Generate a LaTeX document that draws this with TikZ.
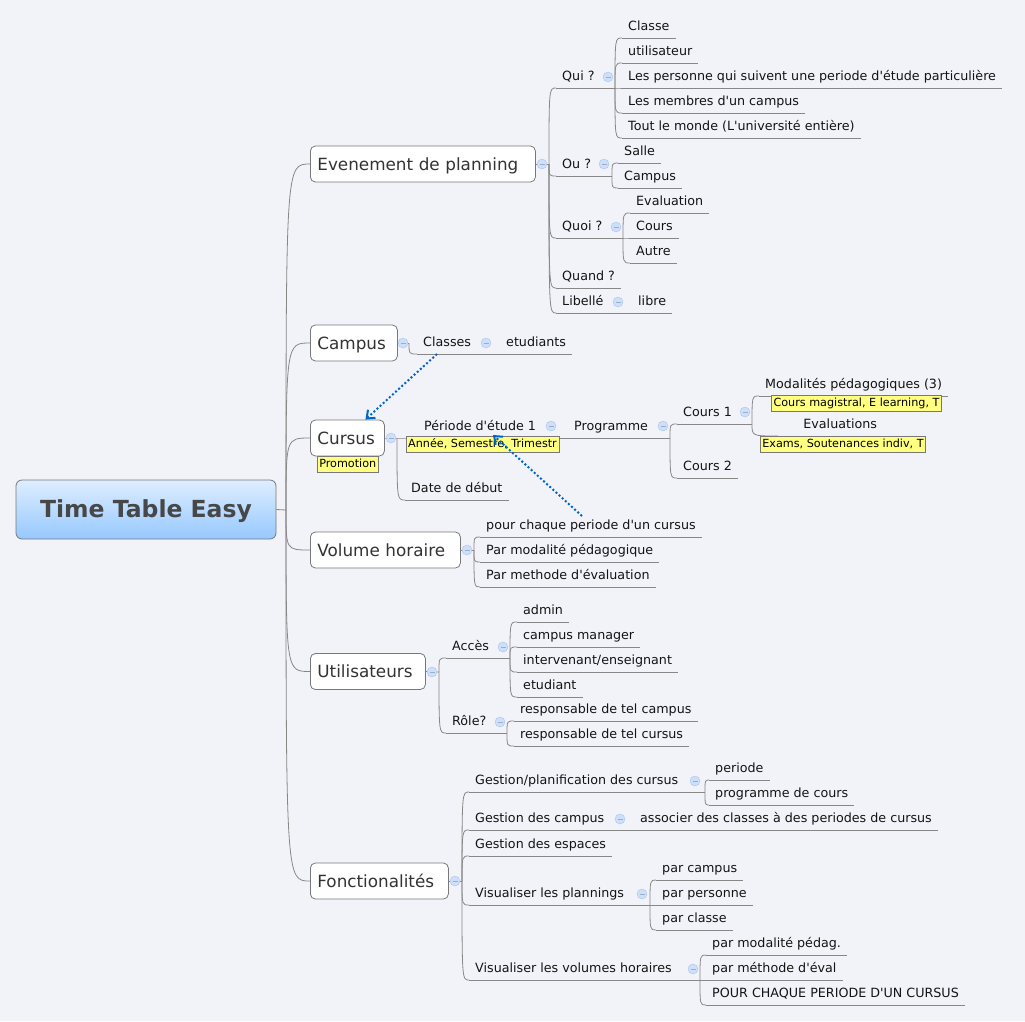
\documentclass[tikz,border=0pt]{standalone}
\usepackage{fontspec}
\setmainfont{DejaVu Sans}[Ligatures=TeXOff]
\usetikzlibrary{calc,positioning,arrows.meta}

\definecolor{paper}{RGB}{242,243,248}
\definecolor{wiregray}{RGB}{135,135,135}
\definecolor{boxgray}{RGB}{120,120,120}
\definecolor{foldfill}{RGB}{206,223,250}
\definecolor{folddraw}{RGB}{168,196,240}
\definecolor{notefill}{RGB}{255,255,128}
\definecolor{roottop}{RGB}{222,238,255}
\definecolor{rootbot}{RGB}{150,200,255}
\definecolor{linkblue}{RGB}{0,102,204}
\definecolor{ink}{RGB}{20,20,20}

\begin{document}
\begin{tikzpicture}[
  x=1pt,y=-1pt,
  wire/.style={draw=wiregray,line width=0.8pt},
  branch/.style={to path={.. controls (\tikztostart |- \tikztotarget) .. (\tikztotarget)}},
  root/.style={draw=boxgray,line width=0.8pt,rounded corners=6pt,top color=roottop,bottom color=rootbot,
    minimum width=260pt,minimum height=59pt,text=black!72,
    font=\fontsize{23.5}{28}\selectfont\bfseries,text height=17pt,text depth=2pt},
  topic/.style={draw=boxgray,line width=0.8pt,fill=white,rounded corners=5pt,anchor=west,inner xsep=7pt,
    minimum height=36pt,text=black!80,font=\fontsize{16.8}{20}\selectfont,
    text height=14pt,text depth=2pt,text width=#1,align=left},
  leaf/.style={anchor=south west,inner xsep=6pt,inner ysep=4.5pt,text=ink,
    font=\fontsize{12.7}{15}\selectfont,text height=9.5pt,text depth=2.7pt,
    append after command={(\tikzlastnode.south west) edge[wire] (\tikzlastnode.south east)}},
  fold/.style={circle,minimum size=10pt,inner sep=0pt,fill=foldfill,draw=folddraw,
    path picture={\draw[folddraw!70!black!70,line width=0.7pt]
      ([xshift=-2.5pt]path picture bounding box.center) --
      ([xshift=2.5pt]path picture bounding box.center);}},
  note/.style={draw=boxgray,line width=0.6pt,fill=notefill,inner xsep=2pt,inner ysep=2.5pt,
    font=\fontsize{11.2}{13}\selectfont,text height=8.5pt,text depth=2.5pt},
  link/.style={linkblue,line width=2pt,dash pattern=on 2pt off 2.2pt,
    -{Straight Barb[length=7pt,width=11pt]}}
  ]
\fill[paper] (0,0) rectangle (1025,1021);
\useasboundingbox (0,0) rectangle (1025,1021);

% root and main topics
\node[root] (root) at (146,509.5) {Time Table Easy};
\coordinate (rootJ) at (286,510);
\node[topic=211pt] (evenement) at (310,164) {Evenement de planning};
\node[topic=73pt] (campus) at (310,343) {Campus};
\node[topic=60pt] (cursus) at (310,438) {Cursus};
\node[topic=136pt] (volume) at (310,550) {Volume horaire};
\node[topic=101pt] (utilisateurs) at (310,671.5) {Utilisateurs};
\node[topic=124pt] (fonct) at (310,881) {Fonctionalités};

\draw[wire] (root.east) -- (rootJ);
\draw[wire] (rootJ) to[branch] (evenement.west);
\draw[wire] (rootJ) to[branch] (campus.west);
\draw[wire] (rootJ) to[branch] (cursus.west);
\draw[wire] (rootJ) to[branch] (volume.west);
\draw[wire] (rootJ) to[branch] (utilisateurs.west);
\draw[wire] (rootJ) to[branch] (fonct.west);

% Evenement de planning
\coordinate (evJ) at (549,164);
\node[leaf] (qui) at (556,88) {Qui ?};
\coordinate (quiJ) at (615,88);
\node[leaf] (ou) at (556,176) {Ou ?};
\coordinate (ouJ) at (612,176);
\node[leaf] (quoi) at (556,238) {Quoi ?};
\coordinate (quoiJ) at (623,238);
\node[leaf] (quand) at (556,288) {Quand ?};
\node[leaf] (libelle) at (556,313) {Libellé};
\node[leaf] (libre) at (632,313) {libre};

\node[leaf] (classe) at (622,38) {Classe};
\node[leaf] (utilisateur) at (622,63) {utilisateur};
\node[leaf] (personnes) at (622,88) {Les personne qui suivent une periode d'étude particulière};
\node[leaf] (membres) at (622,113) {Les membres d'un campus};
\node[leaf] (toutMonde) at (622,138) {Tout le monde (L'université entière)};
\node[leaf] (salle) at (618,163) {Salle};
\node[leaf] (campusLieu) at (618,188) {Campus};
\node[leaf] (evaluation) at (630,213) {Evaluation};
\node[leaf] (cours) at (630,238) {Cours};
\node[leaf] (autre) at (630,263) {Autre};

\draw[wire] (evenement.east) -- (evJ);
\draw[wire] (evJ) to[branch] (qui.south west);
\draw[wire] (evJ) to[branch] (ou.south west);
\draw[wire] (evJ) to[branch] (quoi.south west);
\draw[wire] (evJ) to[branch] (quand.south west);
\draw[wire] (evJ) to[branch] (libelle.south west);
\draw[wire] (qui.south west) -- (quiJ);
\draw[wire] (ou.south west) -- (ouJ);
\draw[wire] (quoi.south west) -- (quoiJ);
\draw[wire] (libelle.south west) -- (libre.south west);
\draw[wire] (quiJ) to[branch] (classe.south west);
\draw[wire] (quiJ) to[branch] (utilisateur.south west);
\draw[wire] (quiJ) to[branch] (personnes.south west);
\draw[wire] (quiJ) to[branch] (membres.south west);
\draw[wire] (quiJ) to[branch] (toutMonde.south west);
\draw[wire] (ouJ) to[branch] (salle.south west);
\draw[wire] (ouJ) to[branch] (campusLieu.south west);
\draw[wire] (quoiJ) to[branch] (evaluation.south west);
\draw[wire] (quoiJ) to[branch] (cours.south west);
\draw[wire] (quoiJ) to[branch] (autre.south west);

% Campus
\coordinate (campusJ) at (409,343);
\node[leaf] (classes) at (417,354) {Classes};
\node[leaf] (etudiants) at (500,354) {etudiants};
\draw[wire] (campus.east) -- (campusJ);
\draw[wire] (campusJ) to[branch] (classes.south west);
\draw[wire] (classes.south west) -- (etudiants.south west);

% Cursus
\coordinate (cursusJ) at (397,438);
\node[leaf] (periode) at (418,438) {Période d'étude 1};
\node[leaf] (programme) at (568,438) {Programme};
\coordinate (programmeJ) at (670,438);
\node[leaf] (dateDebut) at (405,500) {Date de début};
\node[leaf] (cours1) at (677,424) {Cours 1};
\coordinate (cours1J) at (752,424);
\node[leaf] (cours2) at (677,478) {Cours 2};
\node[leaf] (modalites) at (759,396) {Modalités pédagogiques (3)};
\node[leaf,minimum width=124pt] (evaluations) at (778,436) {Evaluations};

\draw[wire] (cursus.east) -- (cursusJ) -- (periode.south west);
\draw[wire] (periode.south west) -- (programme.south west);
\draw[wire] (programme.south west) -- (programmeJ);
\draw[wire] (cursusJ) to[branch] (dateDebut.south west);
\draw[wire] (programmeJ) to[branch] (cours1.south west);
\draw[wire] (programmeJ) to[branch] (cours2.south west);
\draw[wire] (cours1.south west) -- (cours1J);
\draw[wire] (cours1J) to[branch] (modalites.south west);
\draw[wire] (cours1J) to[branch] (evaluations.south west);

\node[note,anchor=north west] (promotion) at (317,456) {Promotion};
\node[note] (anneeNote) at (482.5,444.5) {Année, Semestre, Trimestr};
\node[note] (coursNote) at (856.5,403.5) {Cours magistral, E learning, T};
\node[note] (examsNote) at (843,444.5) {Exams, Soutenances indiv, T};

% Volume horaire
\coordinate (volumeJ) at (474,550);
\node[leaf] (pourChaque) at (480,537) {pour chaque periode d'un cursus};
\node[leaf] (parModalite) at (480,562) {Par modalité pédagogique};
\node[leaf] (parMethode) at (480,587) {Par methode d'évaluation};
\draw[wire] (volume.east) -- (volumeJ);
\draw[wire] (volumeJ) to[branch] (pourChaque.south west);
\draw[wire] (volumeJ) to[branch] (parModalite.south west);
\draw[wire] (volumeJ) to[branch] (parMethode.south west);

% Utilisateurs
\coordinate (utilJ) at (439,672);
\node[leaf] (acces) at (446,658) {Accès};
\coordinate (accesJ) at (510,658);
\node[leaf] (role) at (446,733) {Rôle?};
\coordinate (roleJ) at (507,733);
\node[leaf] (admin) at (517,622) {admin};
\node[leaf] (campusMgr) at (517,647) {campus manager};
\node[leaf] (intervenant) at (517,672) {intervenant/enseignant};
\node[leaf] (etudiant) at (517,697) {etudiant};
\node[leaf] (respCampus) at (514,721) {responsable de tel campus};
\node[leaf] (respCursus) at (514,746) {responsable de tel cursus};

\draw[wire] (utilisateurs.east) -- (utilJ);
\draw[wire] (utilJ) to[branch] (acces.south west);
\draw[wire] (utilJ) to[branch] (role.south west);
\draw[wire] (acces.south west) -- (accesJ);
\draw[wire] (role.south west) -- (roleJ);
\draw[wire] (accesJ) to[branch] (admin.south west);
\draw[wire] (accesJ) to[branch] (campusMgr.south west);
\draw[wire] (accesJ) to[branch] (intervenant.south west);
\draw[wire] (accesJ) to[branch] (etudiant.south west);
\draw[wire] (roleJ) to[branch] (respCampus.south west);
\draw[wire] (roleJ) to[branch] (respCursus.south west);

% Fonctionalites
\coordinate (fonctJ) at (462,881);
\node[leaf] (gestPlanif) at (469,792) {Gestion/planification des cursus};
\coordinate (gestPlanifJ) at (705,792);
\node[leaf] (periodeF) at (709,780) {periode};
\node[leaf] (progCours) at (709,805) {programme de cours};
\node[leaf] (gestCampus) at (469,830) {Gestion des campus};
\node[leaf] (associer) at (634,830) {associer des classes à des periodes de cursus};
\node[leaf] (gestEspaces) at (469,856) {Gestion des espaces};
\node[leaf] (visPlan) at (469,905) {Visualiser les plannings};
\coordinate (visPlanJ) at (650,905);
\node[leaf] (parCampus) at (656,880) {par campus};
\node[leaf] (parPersonne) at (656,905) {par personne};
\node[leaf] (parClasse) at (656,930) {par classe};
\node[leaf] (visVol) at (469,980) {Visualiser les volumes horaires};
\coordinate (visVolJ) at (700,980);
\node[leaf] (parModal) at (706,955) {par modalité pédag.};
\node[leaf] (parMeth) at (706,980) {par méthode d'éval};
\node[leaf] (pourChaqueF) at (706,1005) {POUR CHAQUE PERIODE D'UN CURSUS};

\draw[wire] (fonct.east) -- (fonctJ);
\draw[wire] (fonctJ) to[branch] (gestPlanif.south west);
\draw[wire] (fonctJ) to[branch] (gestCampus.south west);
\draw[wire] (fonctJ) to[branch] (gestEspaces.south west);
\draw[wire] (fonctJ) to[branch] (visPlan.south west);
\draw[wire] (fonctJ) to[branch] (visVol.south west);
\draw[wire] (gestPlanif.south west) -- (gestPlanifJ);
\draw[wire] (gestPlanifJ) to[branch] (periodeF.south west);
\draw[wire] (gestPlanifJ) to[branch] (progCours.south west);
\draw[wire] (gestCampus.south west) -- (associer.south west);
\draw[wire] (visPlan.south west) -- (visPlanJ);
\draw[wire] (visPlanJ) to[branch] (parCampus.south west);
\draw[wire] (visPlanJ) to[branch] (parPersonne.south west);
\draw[wire] (visPlanJ) to[branch] (parClasse.south west);
\draw[wire] (visVol.south west) -- (visVolJ);
\draw[wire] (visVolJ) to[branch] (parModal.south west);
\draw[wire] (visVolJ) to[branch] (parMeth.south west);
\draw[wire] (visVolJ) to[branch] (pourChaqueF.south west);

% fold buttons
\node[fold] (evFold) at (542,164) {};
\node[fold] (quiFold) at (608,77) {};
\node[fold] (ouFold) at (604,164) {};
\node[fold] (quoiFold) at (616,227) {};
\node[fold] (libelleFold) at (618,302) {};
\node[fold] (campusFold) at (403,343) {};
\node[fold] (classesFold) at (486,343) {};
\node[fold] (cursusFold) at (391,438) {};
\node[fold] (periodeFold) at (551,426) {};
\node[fold] (programmeFold) at (663,426) {};
\node[fold] (cours1Fold) at (745,412) {};
\node[fold] (volumeFold) at (467,550) {};
\node[fold] (utilFold) at (432,672) {};
\node[fold] (accesFold) at (503,647) {};
\node[fold] (roleFold) at (500,722) {};
\node[fold] (fonctFold) at (455,881) {};
\node[fold] (gestPlanifFold) at (695,781) {};
\node[fold] (gestCampusFold) at (620,819) {};
\node[fold] (visPlanFold) at (642,894) {};
\node[fold] (visVolFold) at (693,969) {};

% relations
\coordinate (classesLink) at ([xshift=20pt]classes.south west);
\coordinate (volumeLink) at (582,516);
\draw[link] (classesLink) -- ([xshift=18pt]cursus.north);
\draw[link] (volumeLink) -- ([xshift=75pt,yshift=3pt]periode.south west);
\end{tikzpicture}
\end{document}
